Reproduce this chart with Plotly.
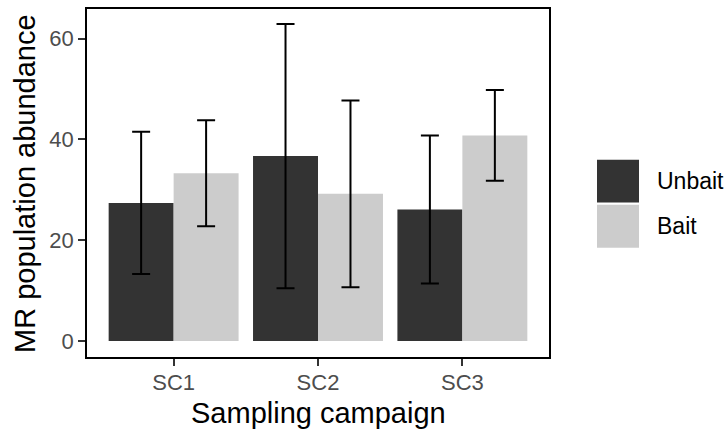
import plotly.graph_objects as go

# Sampling campaigns and treatment groups
campaigns = ["SC1", "SC2", "SC3"]
groups = ["Unbait", "Bait"]
colors = {"Unbait": "#333333", "Bait": "#cccccc"}

# Mean MR population abundance and error half-widths per group
abundance = {
    "Unbait": [27.4, 36.7, 26.1],
    "Bait": [33.3, 29.2, 40.8],
}
error = {
    "Unbait": [14.1, 26.2, 14.7],
    "Bait": [10.5, 18.5, 9.0],
}

y_ticks = [0, 20, 40, 60]

FONT = "Liberation Sans, Arial, sans-serif"
W, H = 726, 432
L, R, T, B = 87, 177, 7, 75
plot_w = W - L - R
plot_h = H - T - B


def px_x(px):
    return (px - L) / plot_w


def px_y(py):
    return (H - B - py) / plot_h


fig = go.Figure()
for g in groups:
    fig.add_trace(go.Bar(
        name=g,
        x=campaigns,
        y=abundance[g],
        marker=dict(color=colors[g], line=dict(width=0)),
        error_y=dict(type="data", array=error[g], visible=True,
                     color="black", thickness=2, width=9),
        showlegend=False,
    ))

fig.update_layout(
    width=W, height=H,
    margin=dict(l=L, r=R, t=T, b=B),
    paper_bgcolor="white",
    plot_bgcolor="white",
    barmode="group",
    bargap=0.1,
    bargroupgap=0,
    font=dict(family=FONT),
)

fig.update_xaxes(
    type="category",
    range=[-0.6, 2.6],
    showline=True, mirror=True, linecolor="black", linewidth=1.5,
    ticks="outside", ticklen=7, tickwidth=1.5, tickcolor="#333333",
    tickfont=dict(size=22, color="#4d4d4d", family=FONT),
    ticklabelstandoff=-2,
    showgrid=False, zeroline=False,
)
fig.update_yaxes(
    range=[-3.16, 65.87],
    tickvals=y_ticks,
    showline=True, mirror=True, linecolor="black", linewidth=1.5,
    ticks="outside", ticklen=7, tickwidth=1.5, tickcolor="#333333",
    tickfont=dict(size=22, color="#4d4d4d", family=FONT),
    ticklabelstandoff=0,
    showgrid=False, zeroline=False,
)

annotations = [
    dict(text="Sampling campaign", xref="paper", yref="paper",
         x=px_x(318), y=px_y(413), xanchor="center", yanchor="middle",
         showarrow=False, font=dict(size=29, color="black", family=FONT)),
    dict(text="MR population abundance", xref="paper", yref="paper",
         x=px_x(25), y=px_y(183), xanchor="center", yanchor="middle",
         textangle=-90, showarrow=False,
         font=dict(size=29, color="black", family=FONT)),
]

# Legend keys and labels
shapes = []
key_tops = [158.5, 204]
for g, top in zip(groups, key_tops):
    shapes.append(dict(
        type="rect", xref="paper", yref="paper",
        x0=px_x(597), x1=px_x(639), y0=px_y(top + 43), y1=px_y(top),
        fillcolor=colors[g], line=dict(width=0), layer="above",
    ))
    annotations.append(dict(
        text=g, xref="paper", yref="paper",
        x=px_x(655), y=px_y(top + 21.5), xanchor="left", yanchor="middle",
        showarrow=False, font=dict(size=23, color="black", family=FONT),
    ))

fig.update_layout(annotations=annotations, shapes=shapes)

fig.write_html("out.html")
